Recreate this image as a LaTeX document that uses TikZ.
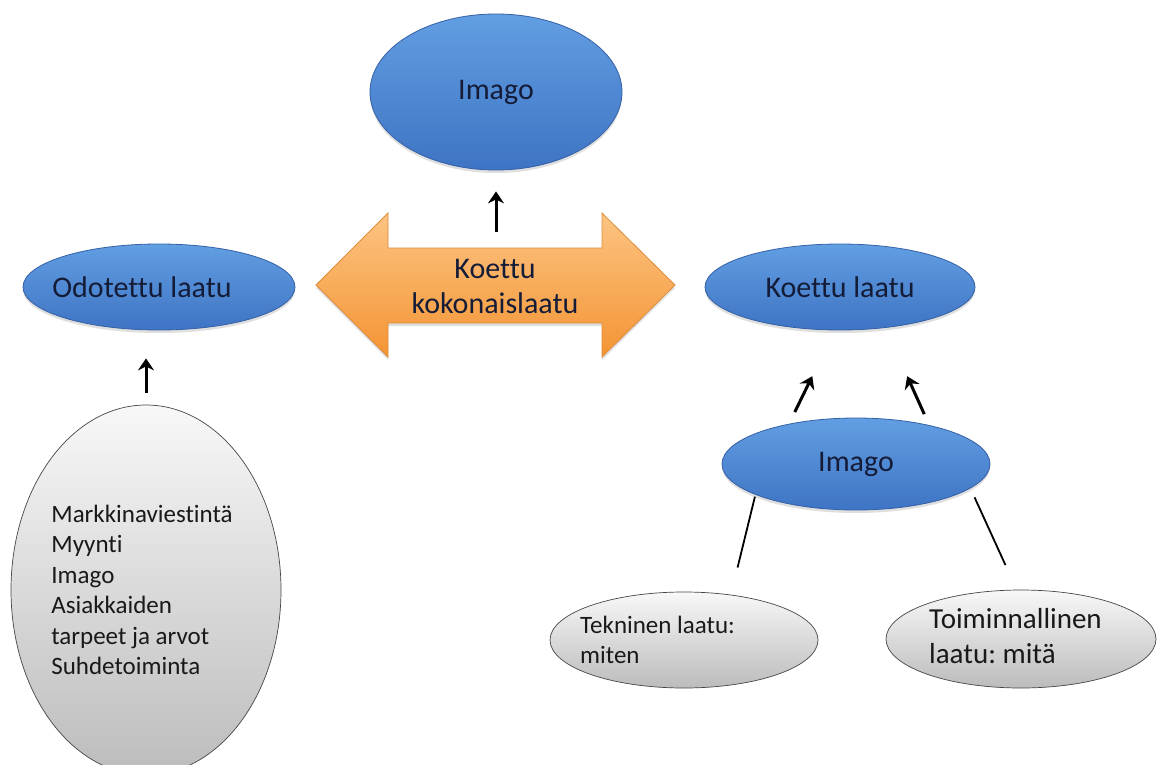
\documentclass[tikz,border=0pt]{standalone}
\usepackage{fontspec}
\setmainfont{Carlito}[Ligatures={NoCommon}]
\frenchspacing
\usetikzlibrary{shapes.geometric,arrows.meta,shadows}
\definecolor{bluetop}{RGB}{98,158,226}
\definecolor{bluebot}{RGB}{62,116,196}
\definecolor{blueline}{RGB}{52,96,165}
\definecolor{bluetext}{RGB}{20,28,55}
\definecolor{greytop}{RGB}{248,248,248}
\definecolor{greybot}{RGB}{188,188,188}
\definecolor{greyline}{RGB}{70,70,70}
\definecolor{orangetop}{RGB}{252,196,130}
\definecolor{orangebot}{RGB}{244,148,52}
\definecolor{orangeline}{RGB}{222,140,60}
\begin{document}
\begin{tikzpicture}[x=1pt,y=-1pt,
 blueell/.style={ellipse, draw=blueline, line width=0.8pt, top color=bluetop, bottom color=bluebot,
   inner sep=0pt, text=bluetext, font=\fontsize{30}{36}\selectfont,
   drop shadow={shadow xshift=0pt, shadow yshift=-3pt, opacity=0.25}},
 bluetxt/.style={text=bluetext, font=\fontsize{30}{36}\selectfont, inner sep=0pt},
 greyell/.style={ellipse, draw=greyline, line width=0.7pt, top color=greytop, bottom color=greybot, inner sep=0pt},
 greytext/.style={align=left, text=black!90, font=\fontsize{25}{30.5}\selectfont, inner sep=0pt},
 greytextbig/.style={align=left, text=black!90, font=\fontsize{29}{35}\selectfont, inner sep=0pt},
 orangearrow/.style={draw=orangeline, line width=0.8pt, top color=orangetop, bottom color=orangebot,
   drop shadow={shadow xshift=0pt, shadow yshift=-3pt, opacity=0.25}},
 arr/.style={line width=3pt, -{Stealth[length=12pt, width=16pt, inset=4pt]}},
 link/.style={line width=1.8pt}]
\useasboundingbox (0,0) rectangle (1159,765);
\clip (0,0) rectangle (1159,765);
\fill[white] (0,0) rectangle (1159,765);

% orange double arrow
\path[orangearrow] (316,285) -- (388,213) -- (388,248) -- (602,248) -- (602,213) -- (675,285)
  -- (602,357) -- (602,323) -- (388,323) -- (388,357) -- cycle;
\node[align=center, text=bluetext, font=\fontsize{30}{35}\selectfont, inner sep=0pt] (kk) at (495,286) {Koettu\\kokonaislaatu};
\coordinate (kkN) at (496,248);

% blue ellipses
\node[blueell, minimum width=252pt, minimum height=156pt] (imago1) at (496,92) {Imago};
\node[blueell, minimum width=272pt, minimum height=86pt] (od) at (159,287) {};
\node[bluetxt] (odtxt) at (142,287) {Odotettu laatu};
\node[blueell, minimum width=270pt, minimum height=86pt] (koettu) at (840,287) {Koettu laatu};
\node[blueell, minimum width=268pt, minimum height=92pt] (imago2) at (856,464) {Imago};

% grey ellipses
\node[greyell, minimum width=270pt, minimum height=370pt] (grey) at (146,590) {};
\node[greytext] (greytxt) at ([xshift=-4pt]grey.center) {Markkinaviestintä\\Myynti\\Imago\\Asiakkaiden\\tarpeet ja arvot\\Suhdetoiminta};
\node[greyell, minimum width=268pt, minimum height=96pt] (tek) at (684,640) {};
\node[greytext, anchor=west] (tektxt) at (580,640) {Tekninen laatu:\\miten};
\node[greyell, minimum width=270pt, minimum height=98pt] (toim) at (1021,639) {};
\node[greytextbig, anchor=west] (toimtxt) at (929,636) {Toiminnallinen\\laatu: mitä};

% connectors
\draw[arr, shorten <=16pt, shorten >=21pt] (kkN) -- (imago1.south);
\draw[arr, shorten <=12pt, shorten >=28pt] (grey.north) -- (grey.north |- od.south);
\draw[arr, shorten <=13pt, shorten >=51pt] (imago2.149) -- (koettu.263);
\draw[arr, shorten <=12pt, shorten >=53pt] (imago2.28) -- (koettu.318);
\draw[link, shorten <=2pt, shorten >=28pt] (imago2.197) -- (tek.44);
\draw[link, shorten <=10pt, shorten >=27pt] (imago2.348) -- (toim.95);
\end{tikzpicture}
\end{document}
